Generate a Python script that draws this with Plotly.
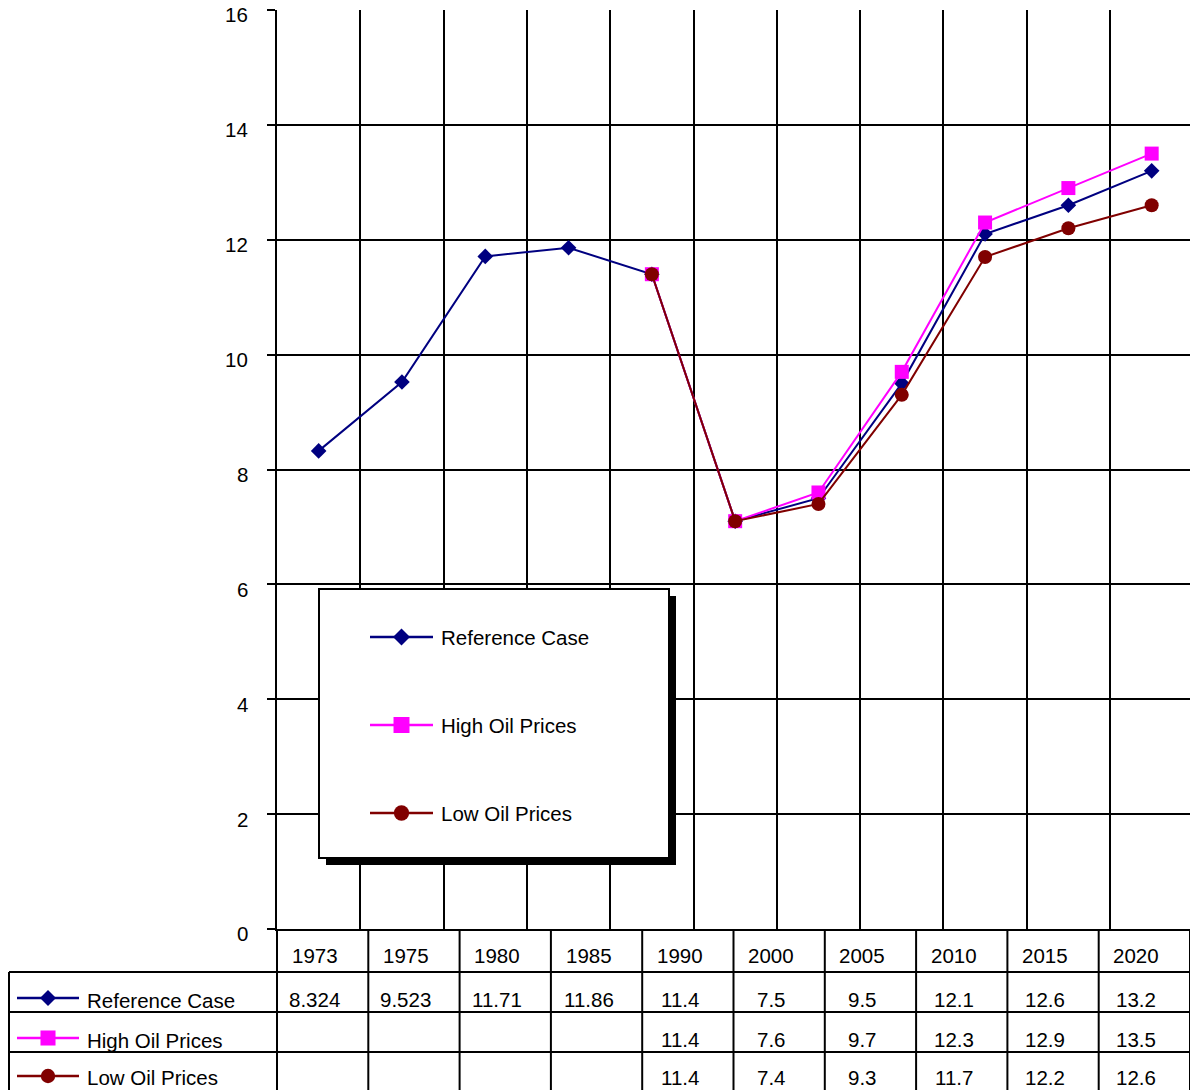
import plotly.graph_objects as go

# Canvas size in pixels
W, H = 1190, 1090

# ---- chart data -------------------------------------------------------------
chart_years = ["1973", "1975", "1980", "1985", "1990", "1995",
               "2000", "2005", "2010", "2015", "2020"]
reference_case = [8.324, 9.523, 11.71, 11.86, 11.4, 7.1, 7.5, 9.5, 12.1, 12.6, 13.2]
high_oil_prices = [None, None, None, None, 11.4, 7.1, 7.6, 9.7, 12.3, 12.9, 13.5]
low_oil_prices = [None, None, None, None, 11.4, 7.1, 7.4, 9.3, 11.7, 12.2, 12.6]

# years listed in the data table underneath the chart
table_years = ["1973", "1975", "1980", "1985", "1990",
               "2000", "2005", "2010", "2015", "2020"]

y_ticks = [0, 2, 4, 6, 8, 10, 12, 14, 16]

series_names = ["Reference Case", "High Oil Prices", "Low Oil Prices"]
series_values = [reference_case, high_oil_prices, low_oil_prices]
series_colors = ["#000080", "#FF00FF", "#800000"]
series_symbols = ["diamond", "square", "circle"]
series_sizes = [12, 14, 14]

FONT = "Arial, 'Liberation Sans', sans-serif"
FS = 20.5


def px(x):
    """pixel x -> paper x"""
    return x / W


def py(y):
    """pixel y (from top) -> paper y"""
    return 1 - y / H


fig = go.Figure()

for name, vals, col, sym, size in zip(series_names, series_values, series_colors,
                                      series_symbols, series_sizes):
    fig.add_trace(go.Scatter(
        x=chart_years, y=vals, name=name, mode="lines+markers",
        line=dict(color=col, width=2),
        marker=dict(symbol=sym, size=size, color=col, line=dict(width=0)),
        connectgaps=False, showlegend=False, cliponaxis=False,
    ))

shapes = []
annotations = []

# ---- key glyph (line + marker) used in the legend box and the table ---------
def add_key(i, x0, x1, yc, msize):
    col = series_colors[i]
    shapes.append(dict(type="line", xref="paper", yref="paper",
                       x0=px(x0), x1=px(x1), y0=py(yc), y1=py(yc),
                       line=dict(color=col, width=2.5), layer="above"))
    xc = (x0 + x1) / 2
    h = msize / 2
    base = dict(xref="paper", yref="paper", xsizemode="pixel", ysizemode="pixel",
                xanchor=px(xc), yanchor=py(yc), fillcolor=col,
                line=dict(color=col, width=0), layer="above")
    sym = series_symbols[i]
    if sym == "diamond":
        shapes.append(dict(type="path",
                           path=f"M {-h} 0 L 0 {h} L {h} 0 L 0 {-h} Z", **base))
    elif sym == "square":
        hs = h * 0.94
        shapes.append(dict(type="rect", x0=-hs, x1=hs, y0=-hs, y1=hs, **base))
    else:
        hc = h * 0.9
        shapes.append(dict(type="circle", x0=-hc, x1=hc, y0=-hc, y1=hc, **base))


# ---- y tick labels, placed on the value axis -------------------------------
for t in y_ticks:
    annotations.append(dict(xref="paper", yref="y", x=px(250), y=t,
                            xanchor="right", yanchor="middle", yshift=-5,
                            showarrow=False, text=str(t),
                            font=dict(family=FONT, size=FS, color="black")))

# ---- floating legend box with drop shadow -----------------------------------
LX0, LY0, LX1, LY1 = 319, 589, 669, 858
SHADOW = 7
shapes.append(dict(type="rect", xref="paper", yref="paper",
                   x0=px(LX0 + SHADOW), x1=px(LX1 + SHADOW),
                   y0=py(LY1 + SHADOW), y1=py(LY0 + SHADOW),
                   fillcolor="black", line=dict(width=0), layer="above"))
shapes.append(dict(type="rect", xref="paper", yref="paper",
                   x0=px(LX0), x1=px(LX1), y0=py(LY1), y1=py(LY0),
                   fillcolor="white", line=dict(color="black", width=2), layer="above"))
legend_rows = [637, 725, 813]
for i, yc in enumerate(legend_rows):
    add_key(i, 370, 433, yc, 17)
    annotations.append(dict(xref="paper", yref="paper", x=px(439), y=py(yc),
                            xanchor="left", yanchor="middle", showarrow=False,
                            text=series_names[i],
                            font=dict(family=FONT, size=FS, color="black")))

# ---- data table -------------------------------------------------------------
TX0, TX1 = 277, 1190
LEFT = 9
HEAD_TOP, HEAD_BOT = 929, 972
row_lines = [972, 1012, 1052]
row_centers = [999, 1039, 1077]
col_w = (TX1 - TX0) / len(table_years)
LINE = dict(color="black", width=2)

for k in range(len(table_years) + 1):
    xk = TX0 + k * col_w
    shapes.append(dict(type="line", xref="paper", yref="paper",
                       x0=px(xk), x1=px(xk), y0=py(HEAD_TOP), y1=py(H),
                       line=LINE, layer="above"))
for yl in row_lines:
    shapes.append(dict(type="line", xref="paper", yref="paper",
                       x0=px(LEFT), x1=px(TX1), y0=py(yl), y1=py(yl),
                       line=LINE, layer="above"))
shapes.append(dict(type="line", xref="paper", yref="paper",
                   x0=px(LEFT), x1=px(LEFT), y0=py(HEAD_BOT), y1=py(H),
                   line=LINE, layer="above"))

TEXT_SHIFT = -8
for k, yr in enumerate(table_years):
    xc = TX0 + (k + 0.5) * col_w + TEXT_SHIFT
    annotations.append(dict(xref="paper", yref="paper", x=px(xc), y=py(955),
                            xanchor="center", yanchor="middle", showarrow=False,
                            text=yr, font=dict(family=FONT, size=FS, color="black")))
    idx = chart_years.index(yr)
    for r, vals in enumerate(series_values):
        v = vals[idx]
        if v is None:
            continue
        annotations.append(dict(xref="paper", yref="paper", x=px(xc), y=py(row_centers[r]),
                                xanchor="center", yanchor="middle", showarrow=False,
                                text=f"{v:g}",
                                font=dict(family=FONT, size=FS, color="black")))

for r, yc in enumerate(row_centers):
    add_key(r, 17, 79, yc - 1, 16)
    annotations.append(dict(xref="paper", yref="paper", x=px(85), y=py(min(yc + 1, 1077)),
                            xanchor="left", yanchor="middle", showarrow=False,
                            text=series_names[r],
                            font=dict(family=FONT, size=FS, color="black")))

fig.update_layout(
    width=W, height=H,
    margin=dict(l=0, r=0, t=0, b=0, pad=0),
    paper_bgcolor="white", plot_bgcolor="white",
    font=dict(family=FONT, size=FS, color="black"),
    showlegend=False,
    shapes=shapes,
    annotations=annotations,
    xaxis=dict(
        domain=[px(TX0), 1.0],
        type="category",
        categoryorder="array", categoryarray=chart_years,
        # the last category column runs slightly past the right edge
        range=[-0.5, len(chart_years) - 0.54],
        tickson="boundaries",
        showgrid=True, gridcolor="black", gridwidth=2,
        showticklabels=False, ticks="",
        showline=True, linecolor="black", linewidth=2,
        zeroline=False, fixedrange=True,
    ),
    yaxis=dict(
        domain=[py(HEAD_TOP), py(10)],
        range=[0, 16],
        tickvals=y_ticks,
        showgrid=True, gridcolor="black", gridwidth=2,
        ticks="outside", ticklen=8, tickwidth=2, tickcolor="black",
        showticklabels=False,
        showline=True, linecolor="black", linewidth=2,
        zeroline=False, fixedrange=True,
    ),
)

fig.write_html("out.html")
